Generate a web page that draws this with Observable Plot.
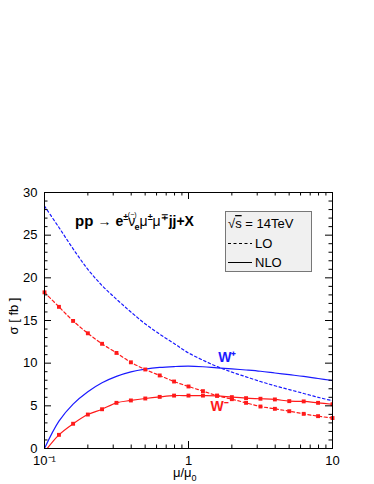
<!DOCTYPE html>
<html><head><meta charset="utf-8">
<script src="https://cdn.jsdelivr.net/npm/d3@7"></script>
<script src="https://cdn.jsdelivr.net/npm/@observablehq/plot@0.6"></script>
<style>body{margin:0;background:#fff;} svg{display:block;}</style>
</head><body><div id="chart"></div>
<script>
// scale ratio mu/mu0
const muValues = [0.1,0.126,0.158,0.2,0.251,0.316,0.398,0.501,0.631,0.794,1,1.26,1.58,2,2.51,3.16,3.98,5.01,6.31,7.94,10];
// W+ (blue)
const wPlusLO  = [28.4,25.9,23.4,21.0,19.1,17.5,16.0,14.6,13.4,12.3,11.2,10.35,9.6,8.95,8.4,7.85,7.35,6.9,6.45,6.0,5.6];
const wPlusNLO = [0,3.2,5.2,6.65,7.7,8.45,8.98,9.3,9.5,9.6,9.65,9.58,9.45,9.33,9.2,9.05,8.85,8.65,8.45,8.2,7.97];
// W- (red)
const wMinusLO  = [18.3,16.6,14.95,13.5,12.27,11.2,10.1,9.26,8.56,7.85,7.27,6.72,6.2,5.78,5.35,4.92,4.65,4.37,4.06,3.79,3.57];
const wMinusNLO = [-0.4,1.6,2.9,3.98,4.6,5.35,5.63,5.86,6.05,6.2,6.2,6.2,6.17,6.02,5.9,5.83,5.75,5.55,5.52,5.35,5.18];
// ticks
const xMajor = [0.1, 1, 10];
const xMajorLabels = {0.1: "10⁻¹", 1: "1", 10: "10"};
const xMinor = [0.2,0.3,0.4,0.5,0.6,0.7,0.8,0.9,2,3,4,5,6,7,8,9];
const yMajor = [0,5,10,15,20,25,30];
const yMinor = [1,2,3,4,6,7,8,9,11,12,13,14,16,17,18,19,21,22,23,24,26,27,28,29];
// labels
const bosonLabels = [{x: 1.61, y: 10.1, t: "W⁺", c: "blue"}, {x: 1.42, y: 4.45, t: "W⁻", c: "red"}];

const BLUE = "#1a1aff", RED = "#ff1a1a";
const rows = muValues.map((m, i) => ({mu: m, pLO: wPlusLO[i], pNLO: wPlusNLO[i], mLO: wMinusLO[i], mNLO: wMinusNLO[i]}));
const font = "'Liberation Sans', Arial, Helvetica, sans-serif";

const W = 374, H = 484, ML = 44, MR = 42, MT = 192, MB = 36;
const PW = W - ML - MR, PH = H - MT - MB;
const MAJ = 7, MIN = 3.5;

const chart = Plot.plot({
  width: W, height: H,
  marginLeft: ML, marginRight: MR, marginTop: MT, marginBottom: MB,
  x: {type: "log", domain: [0.1, 10]},
  y: {domain: [0, 30]},
  style: {fontFamily: font, fontSize: "13px", color: "#000", background: "#fff"},
  marks: [
    Plot.line(rows, {x: "mu", y: "pLO", stroke: BLUE, strokeWidth: 1.2, strokeDasharray: "2.5,2.5", curve: "catmull-rom"}),
    Plot.line(rows, {x: "mu", y: "pNLO", stroke: BLUE, strokeWidth: 1.2, curve: "catmull-rom"}),
    Plot.line(rows, {x: "mu", y: "mLO", stroke: RED, strokeWidth: 1.2, strokeDasharray: "3,2.5", curve: "catmull-rom"}),
    Plot.dot(rows, {x: "mu", y: "mLO", fill: RED, symbol: "square", r: 2.2}),
    Plot.line(rows, {x: "mu", y: "mNLO", stroke: RED, strokeWidth: 1.2, curve: "catmull-rom", clip: true}),
    Plot.dot(rows, {x: "mu", y: "mNLO", fill: RED, symbol: "square", r: 2.2, clip: true}),
    Plot.text(bosonLabels, {x: "x", y: "y", text: "t", fill: d => d.c === "blue" ? BLUE : RED, fontWeight: "bold", fontSize: 14, textAnchor: "start", lineAnchor: "bottom"}),
    // tick labels
    Plot.axisY({anchor: "left", ticks: yMajor, tickSize: 0, tickPadding: 7, label: null, fontSize: 13}),
    Plot.axisX({anchor: "bottom", ticks: xMajor, tickSize: 0, tickPadding: 7, tickFormat: d => xMajorLabels[d], label: null, fontSize: 13}),
    // inward ticks
    Plot.tickY(yMajor, {y: d => d, insetRight: PW - MAJ, stroke: "#000"}),
    Plot.tickY(yMinor, {y: d => d, insetRight: PW - MIN, stroke: "#000"}),
    Plot.tickY(yMajor, {y: d => d, insetLeft: PW - MAJ, stroke: "#000"}),
    Plot.tickY(yMinor, {y: d => d, insetLeft: PW - MIN, stroke: "#000"}),
    Plot.tickX(xMajor, {x: d => d, insetTop: PH - MAJ, stroke: "#000"}),
    Plot.tickX(xMinor, {x: d => d, insetTop: PH - MIN, stroke: "#000"}),
    Plot.tickX(xMajor, {x: d => d, insetBottom: PH - MAJ, stroke: "#000"}),
    Plot.tickX(xMinor, {x: d => d, insetBottom: PH - MIN, stroke: "#000"}),
    Plot.frame({stroke: "#000", strokeWidth: 1})
  ]
});
document.getElementById("chart").appendChild(chart);

const svg = d3.select(chart);
// y axis title
svg.append("text").attr("transform", "translate(18,316) rotate(-90)").attr("text-anchor", "middle").attr("fill", "#000")
  .style("font-family", font).style("font-size", "13px").text("σ [ fb ]");
// x axis title
const xt = svg.append("text").attr("x", 173).attr("y", 477).attr("text-anchor", "start").attr("fill", "#000").style("font-family", font).style("font-size", "13px");
xt.append("tspan").text("μ/μ");
xt.append("tspan").attr("dy", 4).style("font-size", "9px").text("0");

// process title (one text element; the (−) overscript sits above the ν)
const tt = svg.append("text").attr("x", 75).attr("y", 226).attr("text-anchor", "start").attr("fill", "#000").style("font-family", font).style("font-weight", "bold").style("font-size", "14px");
tt.append("tspan").style("font-size", "15px").text("pp ");
tt.append("tspan").style("font-weight", "normal").text("→ ");
tt.append("tspan").text("e");
tt.append("tspan").attr("dy", -6).style("font-size", "9px").text("±");
const nu = tt.append("tspan").attr("dy", 6).style("font-weight", "normal").text("ν");
const nuW = nu.node().getComputedTextLength();
const ov = tt.append("tspan").attr("dx", -nuW - 0.3).attr("dy", -9).style("font-weight", "normal").style("font-size", "7px").text("(−)");
const ovW = ov.node().getComputedTextLength();
tt.append("tspan").attr("dx", -(ovW - nuW) - 0.3).attr("dy", 13).style("font-size", "9px").text("e");
tt.append("tspan").attr("dy", -4).style("font-weight", "normal").text("μ");
tt.append("tspan").attr("dy", -6).style("font-size", "9px").text("±");
tt.append("tspan").attr("dy", 6).style("font-weight", "normal").text("μ");
tt.append("tspan").attr("dy", -6).style("font-size", "9px").text("∓");
tt.append("tspan").attr("dy", 6).text("jj+X");

// legend box
const lg = svg.append("g").attr("text-anchor", "start").attr("fill", "#000").style("font-family", font).style("font-size", "13px");
lg.append("rect").attr("x", 225.5).attr("y", 211.5).attr("width", 86).attr("height", 60).attr("fill", "#f0f0f0").attr("stroke", "#777");
const s1 = lg.append("text").attr("x", 228).attr("y", 228);
s1.append("tspan").text("√");
s1.append("tspan").style("text-decoration", "overline").text("s");
s1.append("tspan").text(" = 14TeV");
lg.append("line").attr("x1", 228).attr("x2", 252).attr("y1", 243.5).attr("y2", 243.5).attr("stroke", "#000").attr("stroke-dasharray", "3,2.5");
lg.append("text").attr("x", 255).attr("y", 248).text("LO");
lg.append("line").attr("x1", 228).attr("x2", 252).attr("y1", 262.5).attr("y2", 262.5).attr("stroke", "#000");
lg.append("text").attr("x", 255).attr("y", 267).text("NLO");
</script>
</body></html>
